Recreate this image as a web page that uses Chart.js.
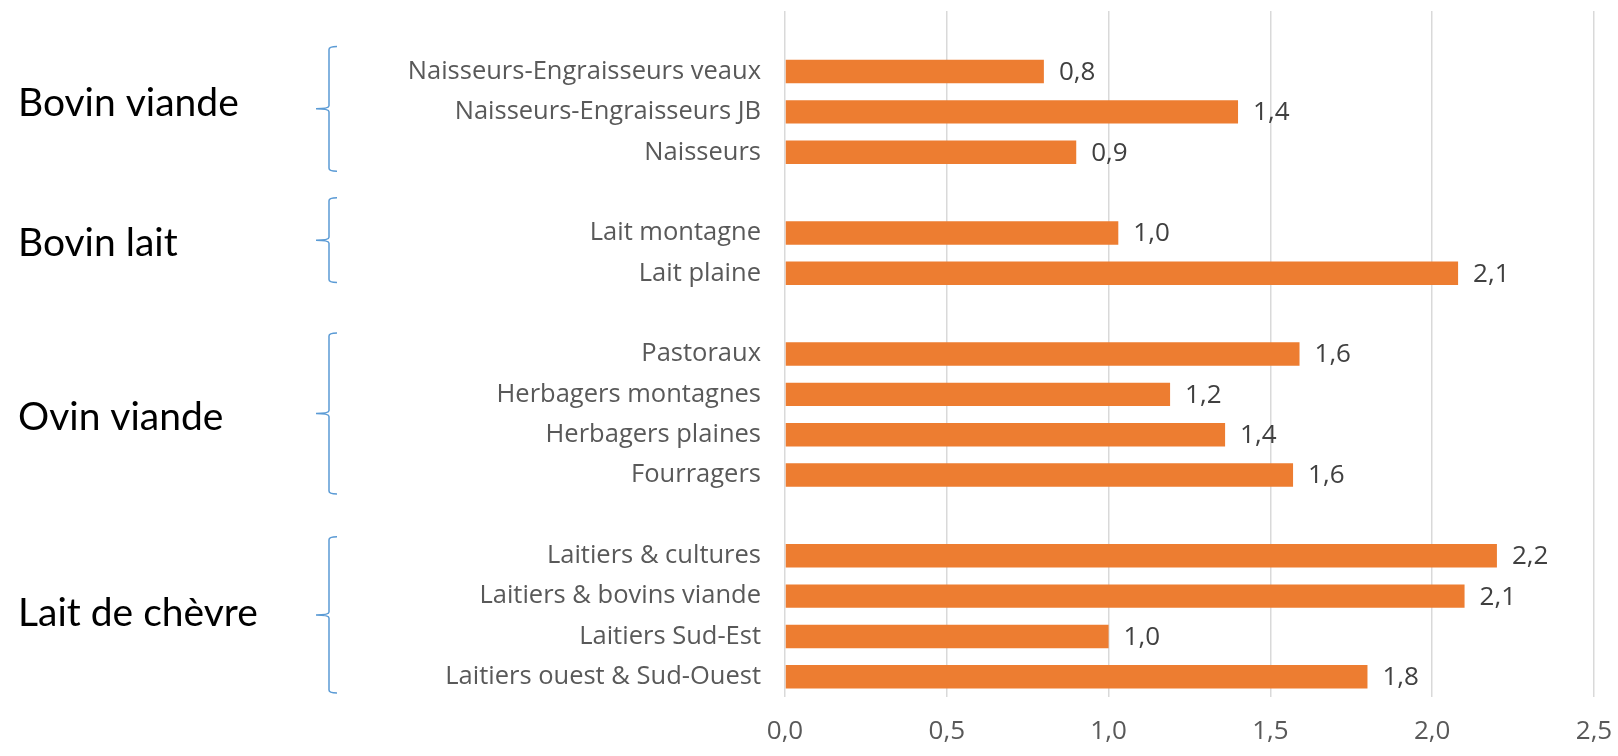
<!DOCTYPE html>
<html>
<head>
<meta charset="utf-8">
<script src="https://cdn.jsdelivr.net/npm/chart.js@4.4.1/dist/chart.umd.min.js"></script>
<style>
  html, body { margin: 0; padding: 0; background: #fff; }
  canvas { display: block; }
</style>
</head>
<body>
<canvas id="chart" width="1618" height="756"></canvas>
<script>
// categories top to bottom, "" = empty spacer row
const categories = [
  "",
  "Naisseurs-Engraisseurs veaux",
  "Naisseurs-Engraisseurs JB",
  "Naisseurs",
  "",
  "Lait montagne",
  "Lait plaine",
  "",
  "Pastoraux",
  "Herbagers montagnes",
  "Herbagers plaines",
  "Fourragers",
  "",
  "Laitiers & cultures",
  "Laitiers & bovins viande",
  "Laitiers Sud-Est",
  "Laitiers ouest & Sud-Ouest"
];

const values = [
  null, 0.80, 1.40, 0.90,
  null, 1.03, 2.08,
  null, 1.59, 1.19, 1.36, 1.57,
  null, 2.20, 2.10, 1.00, 1.80
];

const xTicks = [0, 0.5, 1.0, 1.5, 2.0, 2.5];

// groups on the left, brace span and label row in category units
const groupNames = ["Bovin viande", "Bovin lait", "Ovin viande", "Lait de chèvre"];
const groupFrom = [0.38, 4.13, 7.48, 12.53];
const groupTo = [3.47, 6.23, 11.47, 16.4];
const groupLabelAt = [1.8, 5.26, 9.58, 14.44];

const fmt = (v) => v.toFixed(1).replace(".", ",");

const labelFont = "'Open Sans', sans-serif";

const extras = {
  id: "extras",
  afterDatasetsDraw(chart) {
    const ctx = chart.ctx;
    const meta = chart.getDatasetMeta(0);
    ctx.save();
    ctx.font = "26px " + labelFont;
    ctx.fillStyle = "#404040";
    ctx.textAlign = "left";
    ctx.textBaseline = "middle";
    meta.data.forEach((bar, i) => {
      if (values[i] === null) return;
      ctx.fillText(fmt(values[i]), bar.x + 15, bar.y + 1);
    });
    ctx.restore();
  },
  afterDraw(chart) {
    const ctx = chart.ctx;
    const y = chart.scales.y;
    const x = 329;
    ctx.save();
    ctx.strokeStyle = "#5B9BD5";
    ctx.lineWidth = 1.5;
    groupNames.forEach((name, g) => {
      const top = y.getPixelForValue(groupFrom[g]);
      const bottom = y.getPixelForValue(groupTo[g]);
      const mid = (top + bottom) / 2;
      ctx.beginPath();
      ctx.moveTo(x + 8, top);
      ctx.quadraticCurveTo(x, top, x, top + 3);
      ctx.lineTo(x, mid - 3);
      ctx.quadraticCurveTo(x, mid, x - 13, mid);
      ctx.moveTo(x - 13, mid);
      ctx.quadraticCurveTo(x, mid, x, mid + 3);
      ctx.lineTo(x, bottom - 3);
      ctx.quadraticCurveTo(x, bottom, x + 8, bottom);
      ctx.stroke();

      ctx.font = "39px Lato, sans-serif";
      ctx.fillStyle = "#000";
      ctx.textAlign = "left";
      ctx.textBaseline = "middle";
      ctx.fillText(name, 18, y.getPixelForValue(groupLabelAt[g]));
    });
    ctx.restore();
  }
};

new Chart(document.getElementById("chart"), {
  type: "bar",
  data: {
    labels: categories,
    datasets: [
      {
        data: values,
        backgroundColor: "#ED7D31",
        borderWidth: 0,
        barPercentage: 0.58,
        categoryPercentage: 1,
      },
    ],
  },
  options: {
    indexAxis: "y",
    responsive: false,
    animation: false,
    devicePixelRatio: 1,
    layout: { padding: { top: 11, right: 24, left: 0, bottom: 0 } },
    plugins: {
      legend: { display: false },
      tooltip: { enabled: false },
    },
    scales: {
      x: {
        min: 0,
        max: 2.5,
        afterBuildTicks: (s) => { s.ticks = xTicks.map((v) => ({ value: v })); },
        afterFit: (s) => {
          s.height = 59;
          s.paddingLeft = 0;
          s.paddingRight = 0;
        },
        border: { display: false },
        grid: { color: "#D9D9D9", lineWidth: 1.5, drawTicks: false },
        ticks: {
          padding: 19,
          color: "#595959",
          font: { family: labelFont, size: 26 },
          callback: (v) => fmt(v),
        },
      },
      y: {
        afterFit: (s) => {
          s.width = 785;
          s.paddingTop = 0;
          s.paddingBottom = 0;
        },
        border: { display: false },
        grid: { display: false, drawTicks: false },
        ticks: {
          padding: 24,
          color: "#595959",
          font: { family: labelFont, size: 25.5 },
          autoSkip: false,
        },
      },
    },
  },
  plugins: [extras],
});
</script>
</body>
</html>
